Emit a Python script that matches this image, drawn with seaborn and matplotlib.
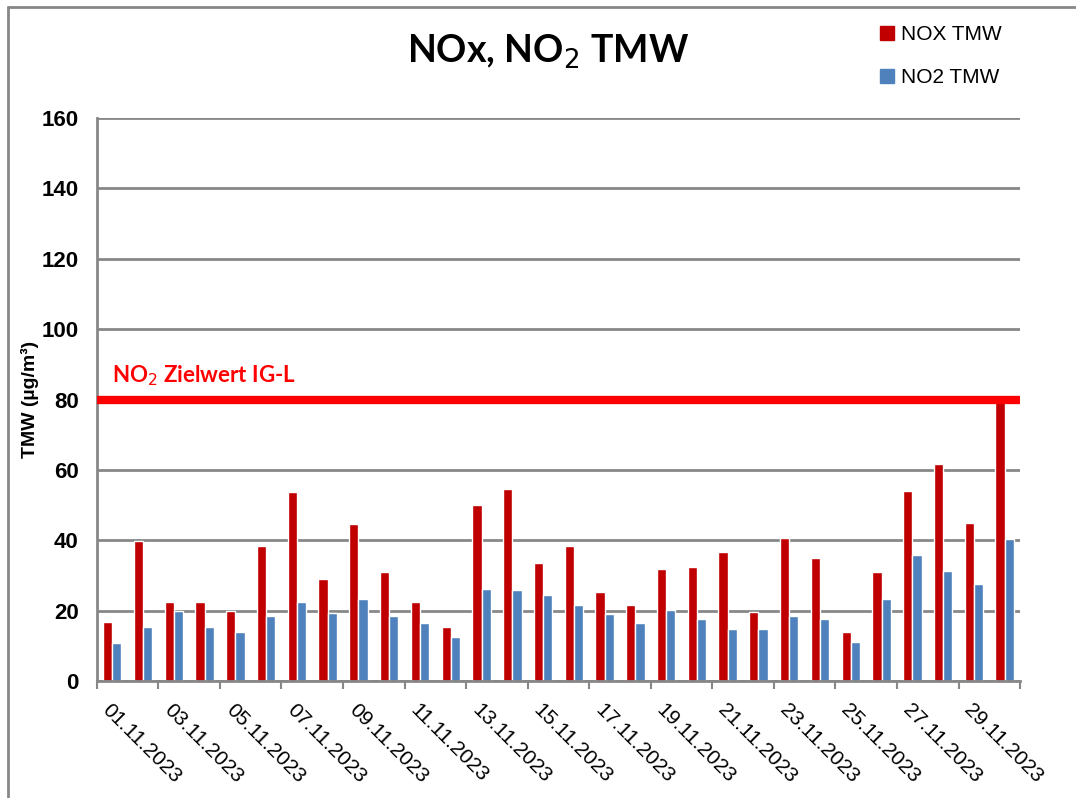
import matplotlib.pyplot as plt
import matplotlib.lines as mlines
import seaborn as sns
import pandas as pd
import numpy as np

days = [f"{d:02d}.11.2023" for d in range(1, 31)]
nox = [16.8, 39.8, 22.6, 22.6, 20.0, 38.4, 53.6, 29.1, 44.6, 31.0,
       22.6, 15.4, 50.1, 54.6, 33.6, 38.4, 25.2, 21.6, 31.7, 32.3,
       36.6, 19.7, 40.7, 35.1, 13.8, 31.0, 54.0, 61.6, 44.9, 80.0]
no2 = [10.7, 15.4, 19.9, 15.4, 13.8, 18.4, 22.4, 19.3, 23.3, 18.4,
       16.4, 12.6, 26.1, 25.9, 24.5, 21.6, 19.0, 16.4, 20.2, 17.5,
       14.9, 14.9, 18.4, 17.7, 11.0, 23.2, 35.9, 31.3, 27.5, 40.3]
limit_no2 = 80

df = pd.DataFrame({
    "Datum": days * 2,
    "TMW": nox + no2,
    "Serie": ["NOX TMW"] * len(days) + ["NO2 TMW"] * len(days),
})

sns.set_style("white")
plt.rcParams["font.family"] = ["Liberation Sans", "DejaVu Sans"]
plt.rcParams["text.color"] = "black"
plt.rcParams["axes.labelcolor"] = "black"
plt.rcParams["xtick.labelcolor"] = "black"
plt.rcParams["ytick.labelcolor"] = "black"

fig = plt.figure(figsize=(10.76, 7.98), dpi=100)
ax = fig.add_axes([0.090, 0.1466, 0.858, 0.7054])

palette = {"NOX TMW": "#c00000", "NO2 TMW": "#4f81bd"}
sns.barplot(data=df, x="Datum", y="TMW", hue="Serie", palette=palette,
            width=0.6, saturation=1, ax=ax, legend=False)

ax.axhline(limit_no2, color="#ff0000", linewidth=6, zorder=5)
ax.text(0.0, limit_no2 + 5, r"NO$_2$ Zielwert IG-L", color="#ff0000",
        fontsize=16, fontweight="bold", family="Lato", zorder=6)

ax.set_ylim(0, 160)
ax.set_xlim(-0.5, len(days) - 0.5)
ax.set_yticks(np.arange(0, 161, 20))
ax.yaxis.grid(True, color="#878787", linewidth=2)
ax.set_axisbelow(True)
ax.tick_params(axis="y", labelsize=16, length=6, width=1.5, color="#878787",
               labelcolor="black", pad=7)
for lab in ax.get_yticklabels():
    lab.set_fontweight("bold")

ax.set_xticks(np.arange(0, len(days), 2))
ax.set_xticklabels(days[::2], rotation=-45, ha="left", rotation_mode="anchor", fontsize=15)
ax.set_xticks(np.arange(-0.5, len(days), 2), minor=True)
ax.tick_params(axis="x", which="major", length=0, pad=14, labelcolor="black")
ax.tick_params(axis="x", which="minor", length=6, width=1.5, color="#878787", bottom=True)

for side in ["top", "right"]:
    ax.spines[side].set_visible(False)
for side in ["left", "bottom"]:
    ax.spines[side].set_color("#878787")
    ax.spines[side].set_linewidth(2)

ax.set_xlabel("")
ax.set_ylabel("TMW (µg/m³)", fontsize=14, fontweight="bold", labelpad=2, color="black")

fig.text(0.509, 0.935, r"NOx, NO$_2$ TMW", ha="center", va="center",
         fontsize=27, fontweight="bold", family="Lato", color="black")

handles = [mlines.Line2D([], [], marker="s", linestyle="", markersize=10, color=palette[k]) for k in palette]
leg = fig.legend(handles, list(palette.keys()), loc="upper left", bbox_to_anchor=(0.797, 0.992),
                 frameon=False, fontsize=15, labelspacing=1.15, handletextpad=0.2, handlelength=1.0)
for t in leg.get_texts():
    t.set_color("black")

fig.add_artist(mlines.Line2D([0.0075, 0.0075], [0, 0.991], transform=fig.transFigure, color="#878787", linewidth=2))
fig.add_artist(mlines.Line2D([0.0075, 1], [0.991, 0.991], transform=fig.transFigure, color="#878787", linewidth=2))

fig.savefig("out.png", dpi=100)
